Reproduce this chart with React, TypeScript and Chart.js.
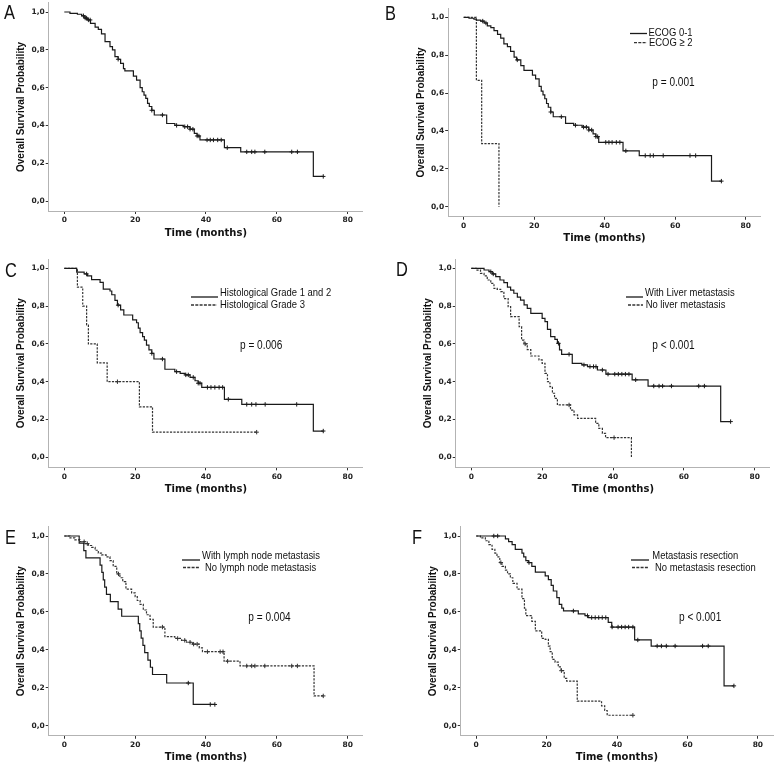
import React, { useEffect, useRef } from "react";
import { Chart, registerables } from "chart.js";

Chart.register(...registerables);

// ---------- shared axis content ----------
const xTickValues = [0, 20, 40, 60, 80];
const yTickValues = [0, 0.2, 0.4, 0.6, 0.8, 1.0];
const xAxisTitle = "Time (months)";
const yAxisTitle = "Overall Survival Probability";

// ---------- Panel A: all patients ----------
const aLabel = "All patients";
const aTimes = [1.6, 3.7, 4.9, 5.8, 6.5, 7.4, 8.7, 9.6, 10.5, 11.5, 12.9, 13.6, 14.3, 15.2, 15.9, 16.7, 17.1, 19.5, 20.4, 21.4, 22.0, 22.5, 23.0, 23.5, 24.0, 24.7, 25.4, 28.9, 31.2, 33.6, 35.5, 36.7, 37.5, 38.3, 45.2, 49.8, 70.3];
const aSurv = [0.993, 0.988, 0.98, 0.968, 0.958, 0.94, 0.92, 0.908, 0.884, 0.843, 0.817, 0.8, 0.764, 0.75, 0.728, 0.7, 0.688, 0.661, 0.64, 0.6, 0.578, 0.56, 0.543, 0.517, 0.5, 0.48, 0.455, 0.41, 0.4, 0.393, 0.38, 0.358, 0.344, 0.323, 0.282, 0.26, 0.13];
const aEnd = 73.1;
const aCensored = [5.4, 5.9, 6.3, 6.8, 7.3, 15.2, 24.7, 27.7, 31.7, 34.0, 34.8, 35.5, 36.3, 37.5, 38.0, 40.3, 41.2, 42.1, 43.3, 44.3, 46.0, 51.5, 52.9, 53.8, 56.6, 64.2, 65.8, 73.1];

// ---------- Panel B: ECOG ----------
const bLabels = ["ECOG 0-1", "ECOG \u2265 2"];
const bP = "p = 0.001";
const b1Times = [1.5, 2.9, 3.6, 4.8, 5.8, 6.7, 7.7, 8.6, 9.6, 10.5, 11.4, 12.4, 13.3, 14.3, 15.0, 16.2, 17.1, 19.5, 20.4, 21.4, 22.0, 22.5, 23.0, 23.5, 24.0, 24.7, 25.4, 28.9, 31.2, 33.6, 35.5, 36.7, 37.5, 38.3, 45.2, 49.8, 70.3];
const b1Surv = [0.995, 0.99, 0.985, 0.98, 0.97, 0.955, 0.945, 0.93, 0.91, 0.89, 0.86, 0.845, 0.82, 0.79, 0.775, 0.745, 0.72, 0.695, 0.675, 0.635, 0.61, 0.59, 0.57, 0.545, 0.525, 0.5, 0.475, 0.44, 0.43, 0.42, 0.405, 0.385, 0.37, 0.34, 0.295, 0.27, 0.135];
const b1End = 73.1;
const b1Censored = [5.4, 6.3, 15.2, 24.7, 27.7, 31.7, 34.0, 34.8, 35.5, 36.3, 37.5, 38.0, 40.3, 41.2, 42.1, 43.3, 44.3, 46.0, 51.5, 52.9, 53.8, 56.6, 64.2, 65.8, 73.1];
const b2Times = [3.6, 5.1, 10.0];
const b2Surv = [0.667, 0.333, 0.0];
const b2End = 10.0;
const b2Censored: number[] = [];

// ---------- Panel C: histological grade ----------
const cLabels = ["Histological Grade 1 and 2", "Histological Grade 3"];
const cP = "p = 0.006";
const c1Times = [3.5, 5.6, 6.5, 7.7, 10.1, 11.0, 12.9, 13.4, 14.3, 15.0, 15.9, 16.8, 19.3, 20.4, 20.9, 21.4, 22.1, 22.6, 23.2, 23.9, 24.7, 25.3, 28.4, 31.2, 32.7, 34.1, 35.5, 36.9, 37.8, 38.8, 45.2, 50.1, 70.3];
const c1Surv = [0.98, 0.97, 0.96, 0.94, 0.925, 0.89, 0.88, 0.86, 0.83, 0.805, 0.78, 0.753, 0.727, 0.712, 0.683, 0.66, 0.638, 0.62, 0.594, 0.568, 0.55, 0.52, 0.466, 0.453, 0.444, 0.436, 0.423, 0.405, 0.392, 0.37, 0.307, 0.28, 0.139];
const c1End = 73.1;
const c1Censored = [6.3, 15.2, 24.7, 27.7, 31.7, 34.3, 35.0, 36.4, 37.8, 38.3, 40.4, 41.4, 42.5, 43.7, 44.7, 46.3, 51.5, 52.9, 54.1, 56.7, 65.6, 73.1];
const c2Times = [3.7, 5.2, 6.3, 6.8, 9.3, 12.1, 21.2, 24.9];
const c2Surv = [0.9, 0.8, 0.7, 0.6, 0.5, 0.4, 0.267, 0.133];
const c2End = 54.3;
const c2Censored = [15.0, 54.3];

// ---------- Panel D: liver metastasis ----------
const dLabels = ["With Liver metastasis", "No liver metastasis"];
const dP = "p < 0.001";
const d1Times = [3.6, 5.0, 5.9, 6.9, 8.1, 9.2, 10.2, 11.1, 12.0, 13.0, 13.9, 14.9, 15.8, 16.8, 20.0, 20.8, 21.5, 22.4, 23.6, 24.3, 24.9, 25.5, 28.5, 31.2, 32.8, 35.6, 38.0, 45.4, 49.9, 70.4];
const d1Surv = [0.991, 0.982, 0.97, 0.956, 0.938, 0.924, 0.9, 0.885, 0.868, 0.847, 0.832, 0.806, 0.788, 0.762, 0.735, 0.718, 0.677, 0.638, 0.624, 0.603, 0.568, 0.545, 0.497, 0.489, 0.48, 0.462, 0.44, 0.41, 0.377, 0.189];
const d1End = 73.2;
const d1Censored = [5.5, 6.2, 24.6, 27.6, 31.8, 33.5, 34.5, 35.2, 37.0, 38.6, 40.5, 41.5, 42.5, 43.5, 44.5, 46.4, 51.5, 53.0, 54.0, 56.5, 64.2, 65.8, 73.2];
const d2Times = [1.4, 2.6, 3.6, 4.5, 5.5, 6.4, 7.3, 8.3, 9.2, 10.4, 11.1, 13.5, 14.2, 14.9, 15.8, 16.8, 19.1, 20.0, 20.8, 21.5, 22.2, 22.9, 23.5, 24.3, 28.0, 29.0, 30.0, 35.1, 36.0, 37.0, 37.9, 45.2];
const d2Surv = [0.99, 0.973, 0.96, 0.938, 0.92, 0.894, 0.889, 0.877, 0.84, 0.797, 0.744, 0.691, 0.62, 0.6, 0.57, 0.536, 0.515, 0.497, 0.444, 0.4, 0.374, 0.339, 0.312, 0.277, 0.25, 0.224, 0.206, 0.18, 0.153, 0.127, 0.104, 0.0];
const d2End = 45.2;
const d2Censored = [15.2, 27.6, 40.3];

// ---------- Panel E: lymph node metastasis ----------
const eLabels = ["With lymph node metastasis", "No lymph node metastasis"];
const eP = "p = 0.004";
const e1Times = [4.2, 5.5, 6.1, 10.1, 10.6, 11.0, 11.4, 11.9, 13.0, 15.2, 16.2, 20.9, 21.3, 21.7, 22.2, 22.7, 23.6, 24.3, 24.9, 28.9, 36.4];
const e1Surv = [0.962, 0.923, 0.885, 0.846, 0.808, 0.769, 0.731, 0.692, 0.654, 0.615, 0.577, 0.538, 0.5, 0.462, 0.423, 0.385, 0.346, 0.308, 0.27, 0.225, 0.112];
const e1End = 42.5;
const e1Censored = [35.0, 41.2, 42.5];
const e2Times = [1.6, 3.0, 4.4, 5.8, 6.8, 7.7, 8.7, 9.6, 10.5, 11.8, 12.9, 13.8, 14.8, 15.7, 16.5, 17.4, 19.0, 20.0, 20.6, 21.4, 22.3, 23.2, 24.2, 25.1, 28.4, 31.2, 33.1, 34.5, 36.2, 38.1, 39.0, 45.1, 49.6, 70.5];
const e2Surv = [0.99, 0.98, 0.97, 0.96, 0.95, 0.94, 0.925, 0.91, 0.9, 0.89, 0.87, 0.84, 0.8, 0.78, 0.76, 0.72, 0.7, 0.68, 0.66, 0.64, 0.61, 0.585, 0.56, 0.52, 0.47, 0.46, 0.45, 0.44, 0.43, 0.41, 0.39, 0.34, 0.315, 0.157];
const e2End = 73.1;
const e2Censored = [5.6, 6.5, 15.3, 27.7, 32.0, 34.0, 35.5, 36.5, 37.5, 40.4, 44.0, 44.8, 46.1, 51.5, 52.9, 53.8, 56.6, 64.2, 65.8, 73.1];

// ---------- Panel F: metastasis resection ----------
const fLabels = ["Metastasis resection", "No metastasis resection"];
const fP = "p < 0.001";
const f1Times = [8.3, 9.2, 10.2, 11.1, 13.0, 13.5, 14.1, 14.8, 15.8, 16.8, 19.6, 20.5, 21.3, 21.9, 22.9, 23.6, 24.3, 24.8, 29.0, 30.9, 31.8, 37.5, 38.5, 45.0, 49.7, 70.4];
const f1Surv = [0.985, 0.97, 0.955, 0.93, 0.91, 0.89, 0.87, 0.86, 0.84, 0.81, 0.79, 0.77, 0.74, 0.71, 0.675, 0.64, 0.62, 0.605, 0.59, 0.58, 0.57, 0.545, 0.52, 0.452, 0.42, 0.21];
const f1End = 73.2;
const f1Censored = [5.0, 6.1, 15.0, 27.6, 31.6, 32.8, 33.8, 34.8, 35.8, 36.8, 38.6, 40.3, 41.3, 42.3, 43.3, 44.5, 45.9, 51.4, 52.6, 54.0, 56.5, 64.3, 65.9, 73.2];
const f2Times = [1.2, 2.6, 3.6, 4.5, 5.3, 5.9, 6.7, 7.3, 8.3, 8.9, 9.7, 10.4, 11.6, 13.0, 13.7, 14.1, 15.8, 16.8, 18.6, 19.6, 20.5, 21.0, 21.6, 22.4, 23.3, 24.1, 25.0, 25.7, 28.7, 35.6, 36.5, 37.2];
const f2Surv = [0.99, 0.975, 0.955, 0.93, 0.91, 0.89, 0.86, 0.84, 0.82, 0.8, 0.78, 0.75, 0.72, 0.67, 0.62, 0.58, 0.55, 0.5, 0.46, 0.455, 0.42, 0.39, 0.35, 0.335, 0.31, 0.29, 0.25, 0.235, 0.13, 0.105, 0.08, 0.055];
const f2End = 44.5;
const f2Censored = [7.0, 24.2, 44.5];

// ---------- layout (positions / styles only) ----------
const XMIN = -4.4, XMAX = 84.3, YMIN = -0.053, YMAX = 1.048;
const WY = 40, HX = 30;
const SANS = "'Liberation Sans', Arial, sans-serif";
const WIDE = "'DejaVu Sans', Verdana, sans-serif";
const CONDENSE = 0.82;

type Frame = { x0: number; x80: number; y1: number; y0: number; cx: number; cy: number; cw: number; ch: number };
type LegendPos = { x1: number; x2: number; ly: number; tx: number; ty: number };
type Series = { label: string; times: number[]; surv: number[]; end: number; censored: number[]; dashed: boolean };
type PanelSpec = {
  letter: string; letterPos: [number, number]; frame: Frame; series: Series[];
  legend: LegendPos[] | null; p: string | null; pPos: [number, number] | null;
};

const panels: PanelSpec[] = [
  {
    letter: "A", letterPos: [4, 19.3],
    frame: { x0: 64.3, x80: 347.7, y1: 12, y0: 201, cx: 0, cy: -12, cw: 389, ch: 262 },
    series: [{ label: aLabel, times: aTimes, surv: aSurv, end: aEnd, censored: aCensored, dashed: false }],
    legend: null, p: null, pPos: null,
  },
  {
    letter: "B", letterPos: [385, 19.5],
    frame: { x0: 463.7, x80: 745.7, y1: 17.3, y0: 206.7, cx: 385, cy: -12, cw: 393, ch: 262 },
    series: [
      { label: bLabels[0], times: b1Times, surv: b1Surv, end: b1End, censored: b1Censored, dashed: false },
      { label: bLabels[1], times: b2Times, surv: b2Surv, end: b2End, censored: b2Censored, dashed: true },
    ],
    legend: [{ x1: 630, x2: 647, ly: 33.5, tx: 648.5, ty: 32.5 }, { x1: 634, x2: 647, ly: 42.7, tx: 649, ty: 43 }],
    p: bP, pPos: [652.3, 83],
  },
  {
    letter: "C", letterPos: [5, 276.5],
    frame: { x0: 64.3, x80: 347.7, y1: 268.3, y0: 457.3, cx: 0, cy: 250, cw: 389, ch: 250 },
    series: [
      { label: cLabels[0], times: c1Times, surv: c1Surv, end: c1End, censored: c1Censored, dashed: false },
      { label: cLabels[1], times: c2Times, surv: c2Surv, end: c2End, censored: c2Censored, dashed: true },
    ],
    legend: [{ x1: 191, x2: 218, ly: 297, tx: 220, ty: 293 }, { x1: 191, x2: 217, ly: 305, tx: 220, ty: 305 }],
    p: cP, pPos: [240, 346],
  },
  {
    letter: "D", letterPos: [396, 276],
    frame: { x0: 471.3, x80: 754.7, y1: 268.3, y0: 457.3, cx: 385, cy: 250, cw: 393, ch: 250 },
    series: [
      { label: dLabels[0], times: d1Times, surv: d1Surv, end: d1End, censored: d1Censored, dashed: false },
      { label: dLabels[1], times: d2Times, surv: d2Surv, end: d2End, censored: d2Censored, dashed: true },
    ],
    legend: [{ x1: 626, x2: 643, ly: 297, tx: 645, ty: 293 }, { x1: 628, x2: 643, ly: 305, tx: 645.7, ty: 305 }],
    p: dP, pPos: [652.3, 346],
  },
  {
    letter: "E", letterPos: [5, 544],
    frame: { x0: 64.3, x80: 347.7, y1: 536, y0: 725.7, cx: 0, cy: 500, cw: 389, ch: 270 },
    series: [
      { label: eLabels[0], times: e1Times, surv: e1Surv, end: e1End, censored: e1Censored, dashed: false },
      { label: eLabels[1], times: e2Times, surv: e2Surv, end: e2End, censored: e2Censored, dashed: true },
    ],
    legend: [{ x1: 182, x2: 200, ly: 560, tx: 202, ty: 556 }, { x1: 183, x2: 200, ly: 567.5, tx: 205, ty: 567.5 }],
    p: eP, pPos: [248.3, 618],
  },
  {
    letter: "F", letterPos: [412, 544],
    frame: { x0: 476.3, x80: 759.7, y1: 536, y0: 725.7, cx: 385, cy: 500, cw: 393, ch: 270 },
    series: [
      { label: fLabels[0], times: f1Times, surv: f1Surv, end: f1End, censored: f1Censored, dashed: false },
      { label: fLabels[1], times: f2Times, surv: f2Surv, end: f2End, censored: f2Censored, dashed: true },
    ],
    legend: [{ x1: 631, x2: 649, ly: 560, tx: 652.3, ty: 556 }, { x1: 632, x2: 649, ly: 567.5, tx: 655, ty: 567.5 }],
    p: fP, pPos: [679, 618],
  },
];

const SOLID = "#1a1a1a";
const DASH = "#333333";
const DASH_PATTERN = [2.2, 1.3];

function survAt(times: number[], surv: number[], t: number) {
  let s = 1;
  for (let i = 0; i < times.length; i++) if (times[i] <= t) s = surv[i];
  return s;
}

function buildDatasets(series: Series[]) {
  const ds: any[] = [];
  series.forEach((s) => {
    const color = s.dashed ? DASH : SOLID;
    const pts = [{ x: 0, y: 1 }, ...s.times.map((t, i) => ({ x: t, y: s.surv[i] }))];
    const last = pts[pts.length - 1];
    if (s.end > last.x) pts.push({ x: s.end, y: last.y });
    ds.push({
      label: s.label, data: pts, stepped: "before", borderColor: color, borderWidth: 1.2,
      borderDash: s.dashed ? DASH_PATTERN : [], pointRadius: 0, fill: false, tension: 0,
    });
    ds.push({
      label: s.label + " (censored)",
      data: s.censored.map((t) => ({ x: t, y: survAt(s.times, s.surv, t) })),
      showLine: false, pointStyle: "cross", pointRadius: 2.2, pointBorderWidth: 1,
      pointBorderColor: color, pointBackgroundColor: color, borderColor: color,
    });
  });
  return ds;
}

function condensedText(ctx: CanvasRenderingContext2D, text: string, x: number, y: number) {
  ctx.save();
  ctx.translate(x, y);
  ctx.scale(CONDENSE, 1);
  ctx.fillText(text, 0, 0);
  ctx.restore();
}

function Panel({ spec }: { spec: PanelSpec }) {
  const ref = useRef<HTMLCanvasElement>(null);
  const f = spec.frame;
  useEffect(() => {
    const ppx = (f.x80 - f.x0) / 80;
    const ppy = f.y0 - f.y1;
    const L = f.x0 + XMIN * ppx;
    const R = f.x0 + XMAX * ppx;
    const T = f.y1 - (YMAX - 1) * ppy;
    const B = f.y0 - YMIN * ppy;
    const pad = { left: L - f.cx - WY, top: T - f.cy, right: f.cx + f.cw - R, bottom: f.cy + f.ch - B - HX };

    const annot = {
      id: "annot" + spec.letter,
      afterDraw(chart: any) {
        const ctx = chart.ctx as CanvasRenderingContext2D;
        const ox = -f.cx, oy = -f.cy;
        ctx.save();
        ctx.fillStyle = "#111";
        ctx.textAlign = "left";
        ctx.textBaseline = "alphabetic";
        ctx.font = `20px ${SANS}`;
        condensedText(ctx, spec.letter, spec.letterPos[0] + ox, spec.letterPos[1] + oy);
        if (spec.legend) {
          spec.legend.forEach((lg, i) => {
            const s = spec.series[i];
            ctx.strokeStyle = s.dashed ? DASH : SOLID;
            ctx.lineWidth = 1.3;
            ctx.setLineDash(s.dashed ? [3, 1.3] : []);
            ctx.beginPath();
            ctx.moveTo(lg.x1 + ox, lg.ly + oy);
            ctx.lineTo(lg.x2 + ox, lg.ly + oy);
            ctx.stroke();
            ctx.setLineDash([]);
            ctx.font = `11.5px ${SANS}`;
            ctx.textBaseline = "middle";
            condensedText(ctx, s.label, lg.tx + ox, lg.ty + oy);
          });
        }
        if (spec.p && spec.pPos) {
          ctx.font = `12.3px ${SANS}`;
          ctx.textBaseline = "middle";
          condensedText(ctx, spec.p, spec.pPos[0] + ox, spec.pPos[1] + oy);
        }
        ctx.restore();
      },
    };

    const tickFont = { family: WIDE, size: 7.5, weight: "bold" as const };
    const grid = { drawOnChartArea: false, drawTicks: true, tickLength: 3, tickColor: "#333", tickWidth: 1 };
    const border = { display: true, color: "#b3b3b3", width: 1 };

    const chart = new Chart(ref.current as HTMLCanvasElement, {
      type: "line",
      data: { datasets: buildDatasets(spec.series) },
      plugins: [annot],
      options: {
        animation: false,
        responsive: false,
        maintainAspectRatio: false,
        devicePixelRatio: 1,
        layout: { padding: pad },
        plugins: { legend: { display: false }, tooltip: { enabled: false }, title: { display: false } },
        scales: {
          x: {
            type: "linear", min: XMIN, max: XMAX,
            afterBuildTicks: (ax: any) => { ax.ticks = xTickValues.map((v) => ({ value: v })); },
            afterFit: (ax: any) => { ax.height = HX; ax.paddingLeft = 0; ax.paddingRight = 0; },
            grid, border,
            ticks: { font: tickFont, color: "#222", padding: 2, maxRotation: 0, autoSkip: false, callback: (v: any) => String(v) },
            title: { display: true, text: xAxisTitle, color: "#111", font: { family: WIDE, size: 10, weight: "bold" }, padding: { top: 0, bottom: 2 } },
          },
          y: {
            type: "linear", min: YMIN, max: YMAX,
            afterBuildTicks: (ax: any) => { ax.ticks = yTickValues.map((v) => ({ value: v })); },
            afterFit: (ax: any) => { ax.width = WY; ax.paddingTop = 0; ax.paddingBottom = 0; },
            grid, border,
            ticks: { font: tickFont, color: "#222", padding: 1, autoSkip: false, callback: (v: any) => Number(v).toFixed(1).replace(".", ",") },
            title: { display: true, text: yAxisTitle, color: "#111", font: { family: SANS, size: 10, weight: "bold" }, padding: { top: 7, bottom: 0 } },
          },
        },
      } as any,
    });
    return () => chart.destroy();
  }, []);
  return (
    <canvas
      ref={ref}
      width={f.cw}
      height={f.ch}
      style={{ position: "absolute", left: f.cx, top: f.cy, width: f.cw, height: f.ch }}
    />
  );
}

export default function App() {
  return (
    <div style={{ position: "absolute", left: 0, top: 0, width: 778, height: 764, overflow: "hidden", background: "#fff" }}>
      {panels.map((p) => (
        <Panel key={p.letter} spec={p} />
      ))}
    </div>
  );
}
